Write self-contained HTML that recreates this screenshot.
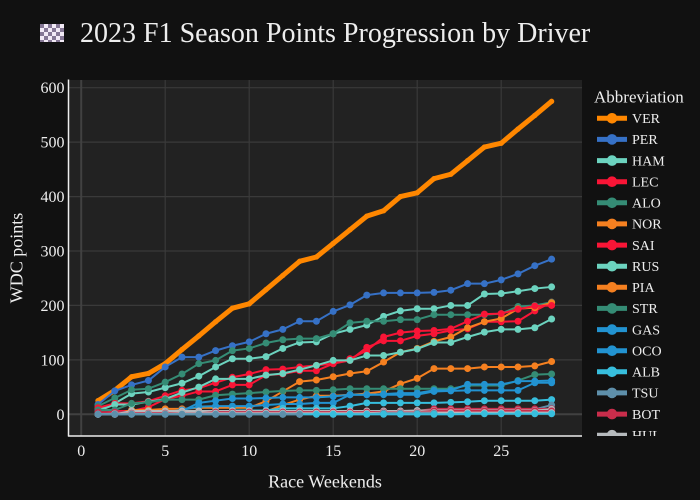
<!DOCTYPE html>
<html><head><meta charset="utf-8"><style>
html,body{margin:0;padding:0;background:#111;}
svg{display:block;}
text{font-family:"Liberation Serif","DejaVu Serif",serif;fill:#eeeeee;}
</style></head><body>
<svg width="700" height="500" viewBox="0 0 700 500" xmlns="http://www.w3.org/2000/svg">
<defs>
<pattern id="chk" x="40" y="24" width="8" height="8" patternUnits="userSpaceOnUse">
<rect width="8" height="8" fill="#f2eaf6"/><rect width="4" height="4" fill="#857795"/><rect x="4" y="4" width="4" height="4" fill="#857795"/>
</pattern>
<clipPath id="lg"><rect x="588" y="80" width="112" height="356"/></clipPath>
<marker id="mVER" markerUnits="userSpaceOnUse" overflow="visible" orient="0" refX="0" refY="0"><ellipse rx="0.16" ry="4.9" fill="#FF8700"/></marker>
<marker id="mPER" markerUnits="userSpaceOnUse" overflow="visible" orient="0" refX="0" refY="0"><ellipse rx="0.2083" ry="6.43" fill="#3671C6"/></marker>
<marker id="mMER" markerUnits="userSpaceOnUse" overflow="visible" orient="0" refX="0" refY="0"><ellipse rx="0.2083" ry="6.43" fill="#6CD3BF"/></marker>
<marker id="mFER" markerUnits="userSpaceOnUse" overflow="visible" orient="0" refX="0" refY="0"><ellipse rx="0.2083" ry="6.43" fill="#F91536"/></marker>
<marker id="mAST" markerUnits="userSpaceOnUse" overflow="visible" orient="0" refX="0" refY="0"><ellipse rx="0.2083" ry="6.43" fill="#358C75"/></marker>
<marker id="mMCL" markerUnits="userSpaceOnUse" overflow="visible" orient="0" refX="0" refY="0"><ellipse rx="0.2083" ry="6.43" fill="#F58020"/></marker>
<marker id="mALP" markerUnits="userSpaceOnUse" overflow="visible" orient="0" refX="0" refY="0"><ellipse rx="0.2083" ry="6.43" fill="#2293D1"/></marker>
<marker id="mWIL" markerUnits="userSpaceOnUse" overflow="visible" orient="0" refX="0" refY="0"><ellipse rx="0.2083" ry="6.43" fill="#37BEDD"/></marker>
<marker id="mAT" markerUnits="userSpaceOnUse" overflow="visible" orient="0" refX="0" refY="0"><ellipse rx="0.2083" ry="6.43" fill="#5E8FAA"/></marker>
<marker id="mALF" markerUnits="userSpaceOnUse" overflow="visible" orient="0" refX="0" refY="0"><ellipse rx="0.2083" ry="6.43" fill="#C92D4B"/></marker>
<marker id="mHAA" markerUnits="userSpaceOnUse" overflow="visible" orient="0" refX="0" refY="0"><ellipse rx="0.2083" ry="6.43" fill="#B6BABD"/></marker>
</defs>
<rect width="700" height="500" fill="#111"/>
<!-- title -->
<rect x="40" y="24" width="24" height="18" fill="url(#chk)"/>
<text x="80" y="42" font-size="28">2023 F1 Season Points Progression by Driver</text>
<!-- plot bg -->
<rect x="68.5" y="80" width="513.5" height="356" fill="#222"/>
<g stroke="#3a3a3a" stroke-width="1.2">
<line x1="165.2" y1="80" x2="165.2" y2="436"/>
<line x1="249.2" y1="80" x2="249.2" y2="436"/>
<line x1="333.2" y1="80" x2="333.2" y2="436"/>
<line x1="417.2" y1="80" x2="417.2" y2="436"/>
<line x1="501.2" y1="80" x2="501.2" y2="436"/>
<line x1="68.5" y1="359.9" x2="582" y2="359.9"/>
<line x1="68.5" y1="305.4" x2="582" y2="305.4"/>
<line x1="68.5" y1="251.0" x2="582" y2="251.0"/>
<line x1="68.5" y1="196.6" x2="582" y2="196.6"/>
<line x1="68.5" y1="142.1" x2="582" y2="142.1"/>
<line x1="68.5" y1="87.7" x2="582" y2="87.7"/>
</g>
<g stroke="#414141" stroke-width="2">
<line x1="81.2" y1="80" x2="81.2" y2="436"/>
<line x1="68.5" y1="414.3" x2="582" y2="414.3"/>
</g>
<!-- data -->
<g transform="matrix(16.8,0,0,-0.5443,81.2,414.3)" fill="none" stroke-linejoin="round">
<polyline vector-effect="non-scaling-stroke" stroke="#FF8700" stroke-width="5" marker-start="url(#mVER)" marker-mid="url(#mVER)" marker-end="url(#mVER)" points="1,25 2,44 3,69 4,75 5,93 6,119 7,144 8,170 9,195 10,203 11,229 12,255 13,281 14,289 15,314 16,339 17,364 18,374 19,400 20,407 21,433 22,441 23,466 24,491 25,498 26,524 27,549 28,575"/>
<polyline vector-effect="non-scaling-stroke" stroke="#3671C6" stroke-width="2" marker-start="url(#mPER)" marker-mid="url(#mPER)" marker-end="url(#mPER)" points="1,18 2,43 3,54 4,62 5,87 6,105 7,105 8,117 9,126 10,133 11,148 12,156 13,171 14,171 15,189 16,201 17,219 18,223 19,223 20,223 21,224 22,228 23,240 24,240 25,247 26,258 27,273 28,285"/>
<polyline vector-effect="non-scaling-stroke" stroke="#6CD3BF" stroke-width="2" marker-start="url(#mMER)" marker-mid="url(#mMER)" marker-end="url(#mMER)" points="1,10 2,20 3,38 4,41 5,49 6,57 7,70 8,87 9,102 10,102 11,106 12,121 13,132 14,133 15,148 16,156 17,164 18,180 19,190 20,194 21,194 22,200 23,200 24,221 25,222 26,226 27,231 28,234"/>
<polyline vector-effect="non-scaling-stroke" stroke="#F91536" stroke-width="2" marker-start="url(#mFER)" marker-mid="url(#mFER)" marker-end="url(#mFER)" points="1,0 2,6 3,6 4,13 5,28 6,34 7,42 8,42 9,54 10,54 11,72 12,74 13,80 14,80 15,93 16,99 17,123 18,135 19,135 20,144 21,148 22,154 23,157 24,170 25,170 26,171 27,190 28,206"/>
<polyline vector-effect="non-scaling-stroke" stroke="#358C75" stroke-width="2" marker-start="url(#mAST)" marker-mid="url(#mAST)" marker-end="url(#mAST)" points="1,15 2,30 3,45 4,47 5,59 6,74 7,93 8,99 9,117 10,121 11,131 12,137 13,139 14,139 15,148 16,168 17,171 18,171 19,174 20,174 21,183 22,183 23,183 24,183 25,185 26,198 27,200 28,206"/>
<polyline vector-effect="non-scaling-stroke" stroke="#F58020" stroke-width="2" marker-start="url(#mMCL)" marker-mid="url(#mMCL)" marker-end="url(#mMCL)" points="1,0 2,0 3,8 4,8 5,10 6,10 7,12 8,12 9,12 10,12 11,24 12,42 13,60 14,63 15,69 16,75 17,79 18,96 19,114 20,121 21,134 22,142 23,159 24,170 25,176 26,194 27,196 28,205"/>
<polyline vector-effect="non-scaling-stroke" stroke="#F91536" stroke-width="2" marker-start="url(#mFER)" marker-mid="url(#mFER)" marker-end="url(#mFER)" points="1,12 2,20 3,20 4,24 5,34 6,44 7,48 8,58 9,68 10,74 11,82 12,83 13,87 14,90 15,93 16,102 17,117 18,142 19,150 20,153 21,154 22,157 23,171 24,184 25,185 26,193 27,199 28,200"/>
<polyline vector-effect="non-scaling-stroke" stroke="#6CD3BF" stroke-width="2" marker-start="url(#mMER)" marker-mid="url(#mMER)" marker-end="url(#mMER)" points="1,6 2,18 3,18 4,23 5,28 6,40 7,50 8,65 9,65 10,65 11,72 12,75 13,82 14,90 15,99 16,99 17,108 18,108 19,114 20,120 21,132 22,132 23,142 24,151 25,156 26,156 27,159 28,175"/>
<polyline vector-effect="non-scaling-stroke" stroke="#F58020" stroke-width="2" marker-start="url(#mMCL)" marker-mid="url(#mMCL)" marker-end="url(#mMCL)" points="1,0 2,0 3,4 4,4 5,4 6,4 7,5 8,5 9,5 10,5 11,5 12,17 13,27 14,34 15,34 16,36 17,38 18,42 19,56 20,66 21,84 22,84 23,84 24,87 25,87 26,87 27,89 28,97"/>
<polyline vector-effect="non-scaling-stroke" stroke="#358C75" stroke-width="2" marker-start="url(#mAST)" marker-mid="url(#mAST)" marker-end="url(#mAST)" points="1,8 2,8 3,20 4,22 5,27 6,27 7,27 8,35 9,37 10,39 11,41 12,43 13,44 14,44 15,45 16,47 17,47 18,47 19,47 20,47 21,47 22,47 23,53 24,53 25,53 26,62 27,73 28,74"/>
<polyline vector-effect="non-scaling-stroke" stroke="#2293D1" stroke-width="2" marker-start="url(#mALP)" marker-mid="url(#mALP)" marker-end="url(#mALP)" points="1,2 2,4 3,4 4,4 5,4 6,8 7,14 8,15 9,15 10,15 11,17 12,19 13,19 14,21 15,21 16,36 17,36 18,36 19,36 20,36 21,42 22,43 23,44 24,44 25,44 26,44 27,58 28,58"/>
<polyline vector-effect="non-scaling-stroke" stroke="#2293D1" stroke-width="2" marker-start="url(#mALP)" marker-mid="url(#mALP)" marker-end="url(#mALP)" points="1,0 2,4 3,4 4,4 5,4 6,6 7,21 8,25 9,29 10,29 11,30 12,31 13,31 14,31 15,33 16,36 17,36 18,37 19,39 20,39 21,44 22,44 23,55 24,55 25,55 26,61 27,61 28,62"/>
<polyline vector-effect="non-scaling-stroke" stroke="#37BEDD" stroke-width="2" marker-start="url(#mWIL)" marker-mid="url(#mWIL)" marker-end="url(#mWIL)" points="1,1 2,1 3,1 4,1 5,1 6,1 7,1 8,1 9,7 10,7 11,7 12,11 13,11 14,11 15,11 16,15 17,21 18,21 19,21 20,21 21,21 22,22 23,23 24,25 25,25 26,25 27,25 28,27"/>
<polyline vector-effect="non-scaling-stroke" stroke="#5E8FAA" stroke-width="2" marker-start="url(#mAT)" marker-mid="url(#mAT)" marker-end="url(#mAT)" points="1,0 2,0 3,1 4,1 5,2 6,2 7,2 8,2 9,2 10,2 11,2 12,2 13,2 14,2 15,3 16,3 17,3 18,3 19,3 20,3 21,3 22,3 23,4 24,4 25,7 26,9 27,9 28,17"/>
<polyline vector-effect="non-scaling-stroke" stroke="#C92D4B" stroke-width="2" marker-start="url(#mALF)" marker-mid="url(#mALF)" marker-end="url(#mALF)" points="1,4 2,4 3,4 4,4 5,4 6,4 7,4 8,4 9,5 10,5 11,5 12,5 13,5 14,5 15,5 16,5 17,6 18,6 19,6 20,6 21,10 22,10 23,10 24,10 25,10 26,10 27,10 28,10"/>
<polyline vector-effect="non-scaling-stroke" stroke="#B6BABD" stroke-width="2" marker-start="url(#mHAA)" marker-mid="url(#mHAA)" marker-end="url(#mHAA)" points="1,0 2,0 3,6 4,6 5,6 6,6 7,6 8,6 9,6 10,6 11,6 12,6 13,6 14,6 15,6 16,6 17,6 18,6 19,6 20,7 21,7 22,7 23,7 24,7 25,7 26,7 27,7 28,9"/>
<polyline vector-effect="non-scaling-stroke" stroke="#5E8FAA" stroke-width="2" marker-start="url(#mAT)" marker-mid="url(#mAT)" marker-end="url(#mAT)" points="13,0 14,0 15,0 22,0 23,0 24,6 25,6 26,6 27,6 28,6"/>
<polyline vector-effect="non-scaling-stroke" stroke="#C92D4B" stroke-width="2" marker-start="url(#mALF)" marker-mid="url(#mALF)" marker-end="url(#mALF)" points="1,0 2,0 3,2 4,2 5,2 6,2 7,2 8,4 9,4 10,4 11,4 12,4 13,4 14,4 15,4 16,4 17,4 18,4 19,4 20,4 21,6 22,6 23,6 24,6 25,6 26,6 27,6 28,6"/>
<polyline vector-effect="non-scaling-stroke" stroke="#B6BABD" stroke-width="2" marker-start="url(#mHAA)" marker-mid="url(#mHAA)" marker-end="url(#mHAA)" points="1,0 2,1 3,1 4,1 5,1 6,2 7,2 8,2 9,2 10,2 11,2 12,2 13,2 14,2 15,2 16,2 17,2 18,3 19,3 20,3 21,3 22,3 23,3 24,3 25,3 26,3 27,3 28,3"/>
<polyline vector-effect="non-scaling-stroke" stroke="#5E8FAA" stroke-width="2" marker-start="url(#mAT)" marker-mid="url(#mAT)" marker-end="url(#mAT)" points="16,0 17,0 18,2 19,2 20,2 21,2"/>
<polyline vector-effect="non-scaling-stroke" stroke="#37BEDD" stroke-width="2" marker-start="url(#mWIL)" marker-mid="url(#mWIL)" marker-end="url(#mWIL)" points="1,0 2,0 3,0 4,0 5,0 6,0 7,0 8,0 9,0 10,0 11,0 12,0 13,0 14,0 15,0 16,0 17,0 18,0 19,0 20,0 21,0 22,0 23,1 24,1 25,1 26,1 27,1 28,1"/>
<polyline vector-effect="non-scaling-stroke" stroke="#5E8FAA" stroke-width="2" marker-start="url(#mAT)" marker-mid="url(#mAT)" marker-end="url(#mAT)" points="1,0 2,0 3,0 4,0 5,0 6,0 7,0 8,0 9,0 10,0 11,0 12,0 13,0"/>
</g>
<!-- axis lines -->
<line x1="68.5" y1="79.5" x2="68.5" y2="436.5" stroke="#eeeeee" stroke-width="1.5"/>
<line x1="68" y1="436" x2="582" y2="436" stroke="#eeeeee" stroke-width="1.5"/>
<!-- y tick labels -->
<g font-size="16" text-anchor="end">
<text x="64.5" y="419.8">0</text>
<text x="64.5" y="365.4">100</text>
<text x="64.5" y="310.9">200</text>
<text x="64.5" y="256.5">300</text>
<text x="64.5" y="202.1">400</text>
<text x="64.5" y="147.6">500</text>
<text x="64.5" y="93.2">600</text>
</g>
<!-- x tick labels -->
<g font-size="16" text-anchor="middle">
<text x="81.2" y="456.2">0</text>
<text x="165.2" y="456.2">5</text>
<text x="249.2" y="456.2">10</text>
<text x="333.2" y="456.2">15</text>
<text x="417.2" y="456.2">20</text>
<text x="501.2" y="456.2">25</text>
</g>
<text x="325" y="487.5" font-size="18" text-anchor="middle">Race Weekends</text>
<text transform="translate(22.5,258) rotate(-90)" font-size="18" text-anchor="middle">WDC points</text>
<!-- legend -->
<text x="594" y="102.3" font-size="17">Abbreviation</text>
<g clip-path="url(#lg)" font-size="14">
<g stroke-width="5">
<line x1="597" y1="118.3" x2="627" y2="118.3" stroke="#FF8700"/>
<line x1="597" y1="139.4" x2="627" y2="139.4" stroke="#3671C6"/>
<line x1="597" y1="160.6" x2="627" y2="160.6" stroke="#6CD3BF"/>
<line x1="597" y1="181.7" x2="627" y2="181.7" stroke="#F91536"/>
<line x1="597" y1="202.8" x2="627" y2="202.8" stroke="#358C75"/>
<line x1="597" y1="223.9" x2="627" y2="223.9" stroke="#F58020"/>
<line x1="597" y1="245.1" x2="627" y2="245.1" stroke="#F91536"/>
<line x1="597" y1="266.2" x2="627" y2="266.2" stroke="#6CD3BF"/>
<line x1="597" y1="287.3" x2="627" y2="287.3" stroke="#F58020"/>
<line x1="597" y1="308.4" x2="627" y2="308.4" stroke="#358C75"/>
<line x1="597" y1="329.6" x2="627" y2="329.6" stroke="#2293D1"/>
<line x1="597" y1="350.7" x2="627" y2="350.7" stroke="#2293D1"/>
<line x1="597" y1="371.8" x2="627" y2="371.8" stroke="#37BEDD"/>
<line x1="597" y1="392.9" x2="627" y2="392.9" stroke="#5E8FAA"/>
<line x1="597" y1="414.1" x2="627" y2="414.1" stroke="#C92D4B"/>
<line x1="597" y1="435.2" x2="627" y2="435.2" stroke="#B6BABD"/>
</g>
<circle cx="612" cy="118.3" r="5.3" fill="#FF8700"/>
<circle cx="612" cy="139.4" r="5.3" fill="#3671C6"/>
<circle cx="612" cy="160.6" r="5.3" fill="#6CD3BF"/>
<circle cx="612" cy="181.7" r="5.3" fill="#F91536"/>
<circle cx="612" cy="202.8" r="5.3" fill="#358C75"/>
<circle cx="612" cy="223.9" r="5.3" fill="#F58020"/>
<circle cx="612" cy="245.1" r="5.3" fill="#F91536"/>
<circle cx="612" cy="266.2" r="5.3" fill="#6CD3BF"/>
<circle cx="612" cy="287.3" r="5.3" fill="#F58020"/>
<circle cx="612" cy="308.4" r="5.3" fill="#358C75"/>
<circle cx="612" cy="329.6" r="5.3" fill="#2293D1"/>
<circle cx="612" cy="350.7" r="5.3" fill="#2293D1"/>
<circle cx="612" cy="371.8" r="5.3" fill="#37BEDD"/>
<circle cx="612" cy="392.9" r="5.3" fill="#5E8FAA"/>
<circle cx="612" cy="414.1" r="5.3" fill="#C92D4B"/>
<circle cx="612" cy="435.2" r="5.3" fill="#B6BABD"/>
<text x="632" y="123">VER</text>
<text x="632" y="144.1">PER</text>
<text x="632" y="165.3">HAM</text>
<text x="632" y="186.4">LEC</text>
<text x="632" y="207.5">ALO</text>
<text x="632" y="228.6">NOR</text>
<text x="632" y="249.8">SAI</text>
<text x="632" y="270.9">RUS</text>
<text x="632" y="292">PIA</text>
<text x="632" y="313.1">STR</text>
<text x="632" y="334.3">GAS</text>
<text x="632" y="355.4">OCO</text>
<text x="632" y="376.5">ALB</text>
<text x="632" y="397.6">TSU</text>
<text x="632" y="418.8">BOT</text>
<text x="632" y="439.9">HUL</text>
</g>
</svg>
</body></html>
